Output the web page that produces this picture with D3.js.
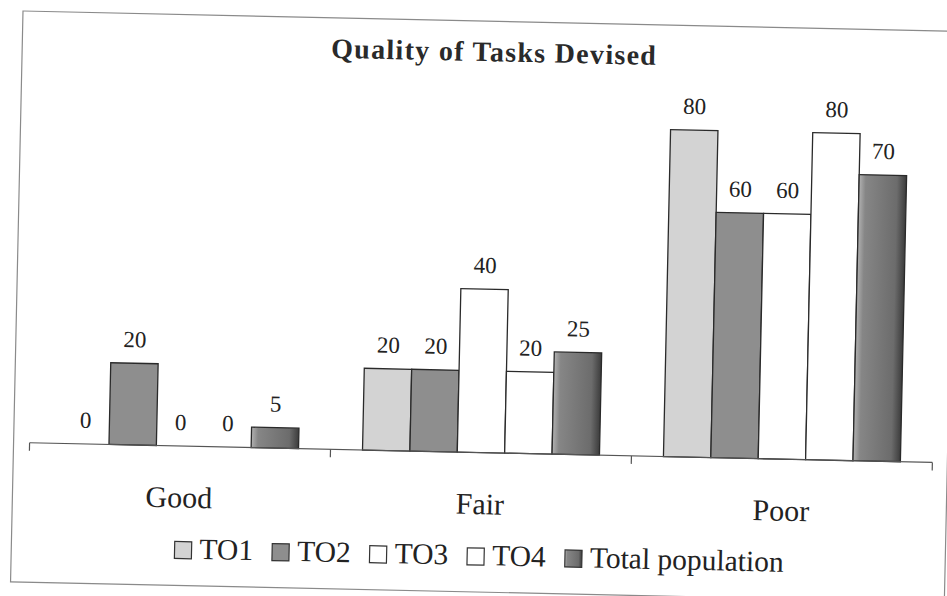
<!DOCTYPE html>
<html>
<head>
<meta charset="utf-8">
<script src="https://cdn.jsdelivr.net/npm/d3@7"></script>
<style>
  body { margin: 0; background: #fff; }
  svg { display: block; font-family: "Liberation Serif", "DejaVu Serif", serif; }
</style>
</head>
<body>
<div id="chart"></div>
<script>
const categories = ["Good", "Fair", "Poor"];
const seriesNames = ["TO1", "TO2", "TO3", "TO4", "Total population"];
const TO1 = [0, 20, 80];
const TO2 = [20, 20, 60];
const TO3 = [0, 40, 60];
const TO4 = [0, 20, 80];
const totalPop = [5, 25, 70];

const W = 947, H = 596;
const fills = ["#d3d3d3", "#8e8e8e", "#ffffff", "#ffffff", "url(#gradTotal)"];
const seriesVals = [TO1, TO2, TO3, TO4, totalPop];

const rows = categories.map((c, i) => ({
  cat: c,
  vals: seriesNames.map((s, j) => ({ key: s, value: seriesVals[j][i], idx: j }))
}));

const svg = d3.select("#chart").append("svg")
  .attr("width", W).attr("height", H);

const defs = svg.append("defs");
const grad = defs.append("linearGradient").attr("id", "gradTotal")
  .attr("x1", "0%").attr("x2", "100%").attr("y1", "0%").attr("y2", "0%");
grad.append("stop").attr("offset", "0%").attr("stop-color", "#b2b2b2");
grad.append("stop").attr("offset", "14%").attr("stop-color", "#868686");
grad.append("stop").attr("offset", "80%").attr("stop-color", "#6c6c6c");
grad.append("stop").attr("offset", "100%").attr("stop-color", "#3c3c3c");

// the scan is tilted a little, so everything sits in a rotated group
const g = svg.append("g").attr("transform", "rotate(1.25, 23, 11)");

// frame
g.append("rect")
  .attr("x", 23).attr("y", 11)
  .attr("width", 934).attr("height", 571)
  .attr("fill", "none").attr("stroke", "#8a8a8a").attr("stroke-width", 1.2);

const x0 = d3.scaleBand().domain(categories).range([39, 942]).padding(0);
const x1 = d3.scaleBand().domain(seriesNames)
  .range([32, x0.bandwidth() - 32]).padding(0);
const y = d3.scaleLinear().domain([0, 90]).range([442.5, 74.5]);

// title
g.append("text")
  .attr("x", 495).attr("y", 51)
  .attr("text-anchor", "middle")
  .attr("font-size", 28).attr("font-weight", "bold")
  .attr("letter-spacing", 1.3)
  .attr("fill", "#2a2a2a")
  .text("Quality of Tasks Devised");

// bars
const grp = g.selectAll("g.cat")
  .data(rows)
  .join("g").attr("class", "cat")
  .attr("transform", d => `translate(${x0(d.cat)},0)`);

grp.selectAll("rect")
  .data(d => d.vals.filter(v => v.value > 0))
  .join("rect")
  .attr("x", d => x1(d.key))
  .attr("y", d => y(d.value))
  .attr("width", x1.bandwidth())
  .attr("height", d => y(0) - y(d.value))
  .attr("fill", d => fills[d.idx])
  .attr("stroke", "#2a2a2a")
  .attr("stroke-width", 1.3);

grp.selectAll("text.val")
  .data(d => d.vals)
  .join("text").attr("class", "val")
  .attr("x", d => x1(d.key) + x1.bandwidth() / 2)
  .attr("y", d => y(d.value) - 16)
  .attr("text-anchor", "middle")
  .attr("font-size", 23)
  .attr("fill", "#222")
  .text(d => d.value);

// axis line with ticks at band edges
const edges = categories.map(c => x0(c)).concat([x0.range()[1]]);
g.append("line")
  .attr("x1", x0.range()[0]).attr("x2", x0.range()[1])
  .attr("y1", y(0)).attr("y2", y(0))
  .attr("stroke", "#555").attr("stroke-width", 1.2);
g.selectAll("line.tick")
  .data(edges)
  .join("line").attr("class", "tick")
  .attr("x1", d => d).attr("x2", d => d)
  .attr("y1", y(0)).attr("y2", y(0) + 8)
  .attr("stroke", "#555").attr("stroke-width", 1.2);

g.selectAll("text.cat")
  .data(categories)
  .join("text").attr("class", "cat")
  .attr("x", d => x0(d) + x0.bandwidth() / 2)
  .attr("y", 504)
  .attr("text-anchor", "middle")
  .attr("font-size", 30)
  .attr("fill", "#222")
  .text(d => d);

// legend
const legend = g.append("g");
const sw = 17, gapText = 8, gapItem = 19, legY = 555;
let lx = 0;
const items = legend.selectAll("g")
  .data(seriesNames)
  .join("g");
items.append("rect")
  .attr("width", sw).attr("height", sw)
  .attr("y", legY - sw)
  .attr("fill", (d, i) => fills[i])
  .attr("stroke", "#333").attr("stroke-width", 1.2);
items.append("text")
  .attr("x", sw + gapText)
  .attr("y", legY)
  .attr("font-size", 29.5)
  .attr("fill", "#222")
  .text(d => d);
items.each(function () {
  d3.select(this).attr("transform", `translate(${lx},0)`);
  lx += this.getBBox().width + gapItem;
});
const legW = lx - gapItem;
legend.attr("transform", `translate(${491 - legW / 2},0)`);
</script>
</body>
</html>
